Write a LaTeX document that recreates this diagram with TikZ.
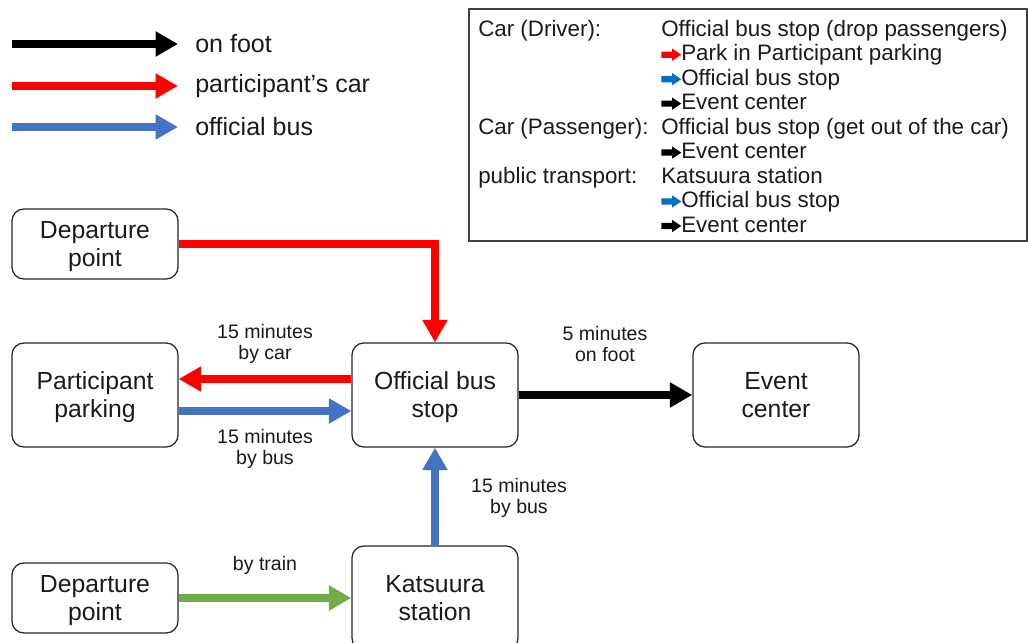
\documentclass[tikz,border=0pt]{standalone}
\usepackage{fontspec}
\setmainfont{Liberation Sans}
\usepackage{xcolor}
\usepackage{tikz}
\usetikzlibrary{arrows.meta,calc,positioning}
\definecolor{CarRed}{HTML}{FF0000}
\definecolor{BusBlue}{HTML}{4472C4}
\definecolor{TrainGreen}{HTML}{70AD47}
\definecolor{TipBlue}{HTML}{0070C0}
\definecolor{InkGray}{HTML}{1A1A1A}
\newcommand{\placefont}{\fontsize{17.6}{20}\selectfont}
\newcommand{\notefont}{\fontsize{13.9}{15}\selectfont}
\newcommand{\legendfont}{\fontsize{17.8}{20}\selectfont}
\newcommand{\infofont}{\fontsize{15.9}{17.4}\selectfont}
% small block arrow in the info box
\newcommand{\tip}[1]{\tikz[baseline=-4.4pt]{\fill[#1] (0,-2.2pt) -- (7.6pt,-2.2pt) -- (7.6pt,-4.4pt) -- (14.2pt,0) -- (7.6pt,4.4pt) -- (7.6pt,2.2pt) -- (0,2.2pt) -- cycle;}}

\begin{document}
\begin{tikzpicture}[
  x=0.025cm, y=-0.025cm,
  place/.style={rectangle, rounded corners=8.5pt, draw=black!85, line width=0.9pt, minimum width=4.15cm, minimum height=2.6cm, align=center, text height=32pt, text depth=-2pt, text=InkGray, font=\placefont},
  smallplace/.style={place, minimum height=1.75cm},
  note/.style={align=center, text=InkGray, font=\notefont},
  legendtext/.style={anchor=west, inner sep=0pt, text=InkGray, font=\legendfont},
  route/.style={line width=5.7pt, -{Triangle[length=16pt,width=17pt]}},
  footarrow/.style={route, black},
  cararrow/.style={route, CarRed},
  busarrow/.style={route, BusBlue},
  trainarrow/.style={route, TrainGreen}
]
\useasboundingbox (0,0) rectangle (1028,643);

% Legend
\coordinate (lf0) at (12,44);  \coordinate (lf1) at (178,44);
\coordinate (lc0) at (12,86);  \coordinate (lc1) at (178,86);
\coordinate (lb0) at (12,127); \coordinate (lb1) at (178,127);
\draw[footarrow] (lf0) -- (lf1);
\draw[cararrow] (lc0) -- (lc1);
\draw[busarrow] (lb0) -- (lb1);
\node[legendtext] (legfoot) at (195,44) {on foot};
\node[legendtext] (legcar) at (195,86) {participant’s car};
\node[legendtext] (legbus) at (195,127) {official bus};

% Info box
\draw[black!75, line width=1pt] (469,9) rectangle (1027,241);
\node[anchor=north west, inner sep=0pt, text=InkGray, font=\infofont] (info) at (478,19) {%
\begin{tabular}{@{}p{4.575cm}@{}l@{}}
Car (Driver): & Official bus stop (drop passengers)\\
 & \tip{CarRed}Park in Participant parking\\
 & \tip{TipBlue}Official bus stop\\
 & \tip{black}Event center\\
Car (Passenger): & Official bus stop (get out of the car)\\
 & \tip{black}Event center\\
public transport: & Katsuura station\\
 & \tip{TipBlue}Official bus stop\\
 & \tip{black}Event center
\end{tabular}};

% Places
\node[smallplace] (dep1) at (95,244) {Departure\\point};
\node[place] (park) at (95,395) {Participant\\parking};
\node[place] (bus) at (435,395) {Official bus\\stop};
\node[place] (event) at (776,395) {Event\\center};
\node[smallplace] (dep2) at (95,598) {Departure\\point};
\node[place] (kat) at (435,598) {Katsuura\\station};

% Routes
\draw[cararrow] (dep1) -| (bus);
\draw[cararrow] ($(bus.west)+(0,-16)$) -- ($(park.east)+(0,-16)$);
\draw[busarrow] ($(park.east)+(0,16)$) -- ($(bus.west)+(0,16)$);
\draw[footarrow] (bus) -- (event);
\draw[busarrow] (kat) -- (bus);
\draw[trainarrow] (dep2) -- (kat);

% Route labels
\node[note] (notecar) at (265,344) {15 minutes\\by car};
\node[note] (notebus) at (265,449) {15 minutes\\by bus};
\node[note] (notefoot) at (605,344) {5 minutes\\on foot};
\node[note] (notekat) at (519,498) {15 minutes\\by bus};
\node[note] (notetrain) at (265,565) {by train};

\end{tikzpicture}
\end{document}
